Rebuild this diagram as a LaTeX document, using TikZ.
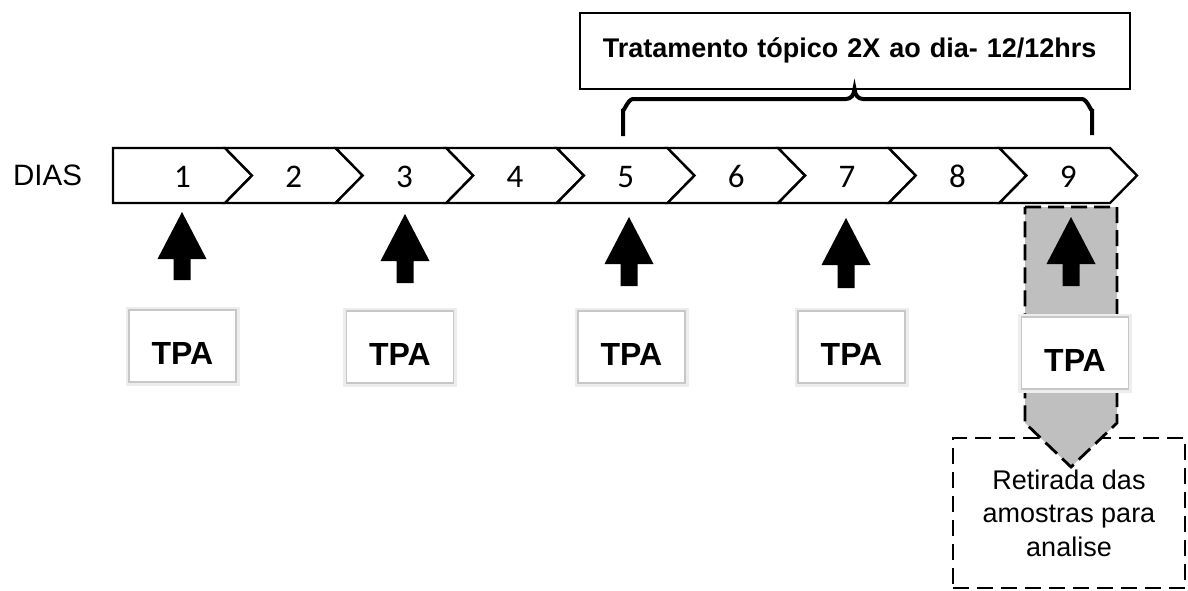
\documentclass[tikz,border=0pt]{standalone}
\usepackage{fontspec}
\setmainfont{Liberation Sans}
\newfontfamily\carlito{Carlito}
\definecolor{grayfill}{RGB}{191,191,191}
\begin{document}
\begin{tikzpicture}[x=1pt,y=-1pt,
  chev/.style={draw=black, fill=white, line width=2.4, line join=miter},
  daynum/.style={inner sep=0, font=\carlito\fontsize{33}{33}\selectfont},
  tpa/.style={draw=black!22, line width=1.2, fill=white,
    preaction={draw=black!7, line width=7},
    minimum width=107, inner xsep=4, inner ysep=10, text height=44, text depth=8,
    font=\fontsize{32}{32}\selectfont\bfseries},
  blockarrow/.style={fill=black},
  topbox/.style={draw=black, line width=1.6, fill=white, minimum width=550, minimum height=76,
    inner xsep=23, text width=504, align=left, font=\fontsize{27}{32}\selectfont\bfseries},
  retbox/.style={draw=black, line width=2.8, dash pattern=on 16 off 8, fill=white,
    minimum width=232, minimum height=150, align=center, font=\fontsize{27}{33.5}\selectfont},
  grayarrow/.style={fill=grayfill, draw=black, line width=2.8, dash pattern=on 16 off 7},
  brace/.style={draw=black, line width=4, line cap=butt}
]
\useasboundingbox (0,0) rectangle (1188,590);

% DIAS label
\node[anchor=base west, inner sep=0, font=\fontsize{29.5}{30}\selectfont] (dias) at (13,185) {DIAS};

% chevron bar
\draw[chev] (113,148) -- (225,148) -- (252,175.5) -- (225,203) -- (113,203) -- cycle;
\node[daynum, anchor=base] (d1) at (182.5,187) {1};
\foreach \k in {2,...,9}{
  \pgfmathsetmacro\nl{225+110.625*(\k-2)}
  \pgfmathsetmacro\nr{\nl+110.625}
  \draw[chev] (\nl,148) -- (\nr,148) -- ({\nr+27},175.5) -- (\nr,203) -- (\nl,203) -- ({\nl+27},175.5) -- cycle;
  \node[daynum, anchor=base] (d\k) at ({\nl+68.8},187) {\k};
}

% top box and brace
\node[topbox, anchor=north west] (trat) at (579,12) {Tratamento tópico 2X ao dia- 12/12hrs};
\draw[brace] (623,136) -- (623,109) to[out=-90,in=180] (633,99) -- (846,99)
  .. controls (851,99) and (854,95) .. (854.5,88.8)
  .. controls (855,95) and (858,99) .. (863,99) -- (1082,99)
  to[out=0,in=-90] (1092,109) -- (1092,135);

% sample box and gray arrow
\node[retbox] (ret) at (1069,513) {Retirada das\\amostras para\\analise};
\path[grayarrow] (1025,207) -- (1117,207) -- (1117,423) -- (1071,467) -- (1025,423) -- cycle;

% black block arrows
\foreach \cx/\tp/\bt in {182/212/280, 405/214/283, 629/217/286, 846/218/288, 1071/217/286}{
  \fill[blockarrow] (\cx,\tp) -- ({\cx+24.5},{\tp+47}) -- ({\cx+8.5},{\tp+47}) -- ({\cx+8.5},\bt)
    -- ({\cx-8.5},\bt) -- ({\cx-8.5},{\tp+47}) -- ({\cx-24.5},{\tp+47}) -- cycle;
}

% TPA boxes
\node[tpa, anchor=base] (t1) at (182.5,364) {TPA};
\node[tpa, anchor=base] (t2) at (400,365) {TPA};
\node[tpa, anchor=base] (t3) at (631.5,365) {TPA};
\node[tpa, anchor=base] (t4) at (851.5,365) {TPA};
\node[tpa, anchor=base] (t5) at (1075,371) {TPA};
\end{tikzpicture}
\end{document}
